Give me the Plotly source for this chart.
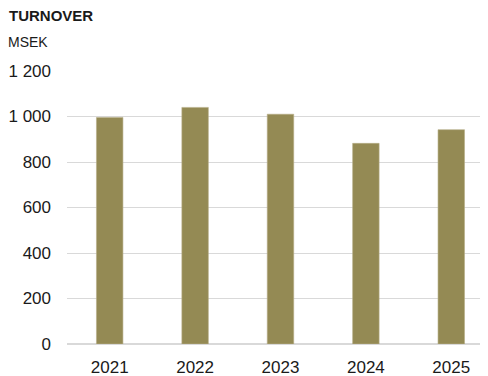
import plotly.graph_objects as go

years = ["2021", "2022", "2023", "2024", "2025"]
turnover = [996, 1040, 1010, 882, 942]
y_ticks = [0, 200, 400, 600, 800, 1000, 1200]

# The page body adds an 8px offset; figure coordinates are window minus 8.
W, H = 480, 368
l, r, t, b = 58.5, 0, 63, 32

fig = go.Figure()
fig.add_trace(go.Bar(
    x=years, y=turnover,
    marker=dict(color="#948a54", line=dict(color="#b5ad86", width=0.6)),
    width=0.31,
))

fig.update_layout(
    width=W, height=H,
    margin=dict(l=l, r=r, t=t, b=b, pad=0),
    paper_bgcolor="white", plot_bgcolor="white",
    separators=". ",
    showlegend=False,
    font=dict(family="Liberation Sans, Arial, sans-serif", color="#1a1a1a"),
    xaxis=dict(
        type="category", range=[-0.5, 4.43], automargin=False,
        showgrid=False, showline=False, ticks="", ticklabelstandoff=11,
        tickfont=dict(size=17, color="#1a1a1a"),
    ),
    yaxis=dict(
        range=[0, 1200], tickvals=y_ticks, tickformat=",d", automargin=False,
        showgrid=True, gridcolor="#d9d9d9", gridwidth=1,
        zeroline=True, zerolinecolor="#d9d9d9", zerolinewidth=1.5,
        showline=False, ticks="", ticklabelstandoff=15,
        tickfont=dict(size=17, color="#1a1a1a"),
    ),
)

pw, ph = W - l - r, H - t - b


def ann(text, px, py, size):
    fig.add_annotation(
        text=text, x=(px - l) / pw, y=(H - b - py) / ph,
        xref="paper", yref="paper", showarrow=False,
        xanchor="left", yanchor="middle", borderpad=0,
        font=dict(size=size, color="#1a1a1a"),
    )


ann("<b>TURNOVER</b>", -1, 7, 15)
ann("MSEK", -2, 34, 14)

fig.write_html("out.html")
